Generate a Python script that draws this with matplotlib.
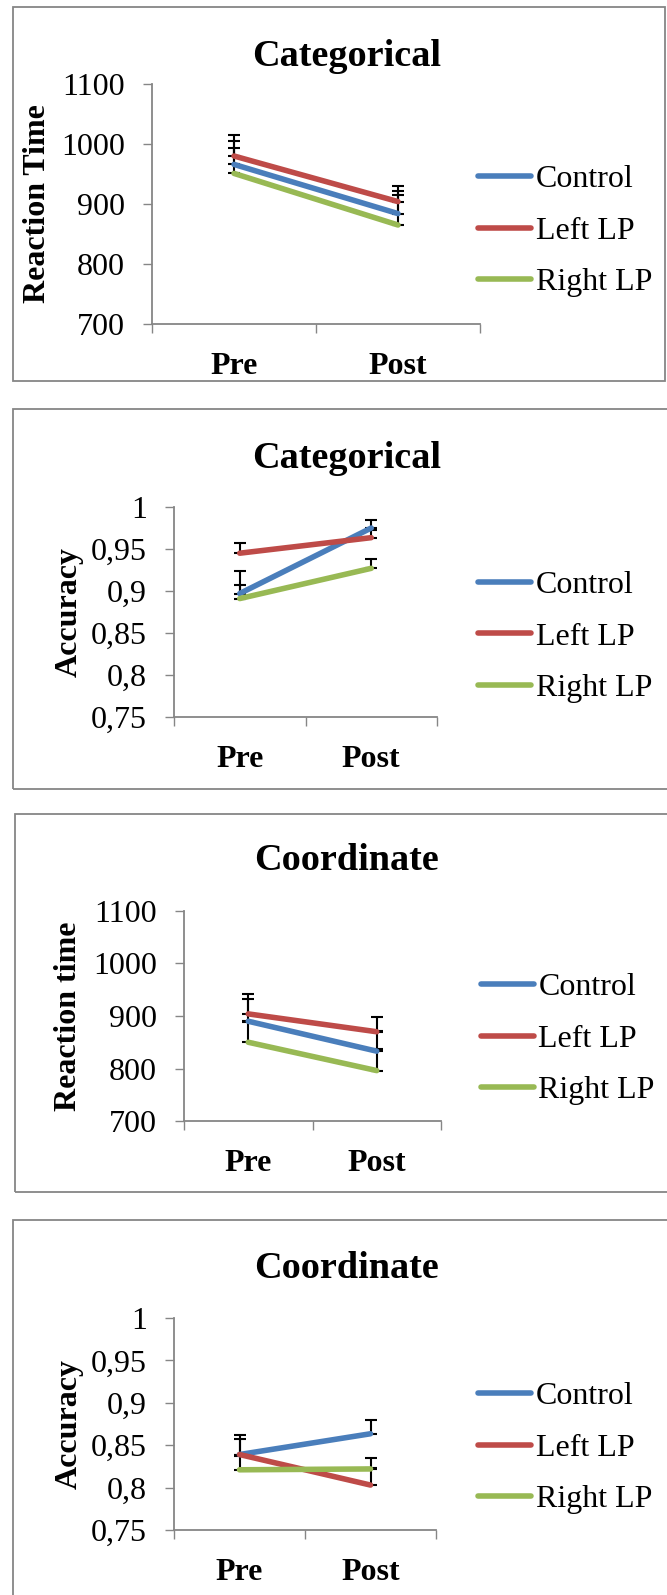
import numpy as np
import matplotlib.pyplot as plt
from matplotlib.patches import Rectangle

# dati
phases = ['Pre', 'Post']
groups = ['Control', 'Left LP', 'Right LP']
colors = ['#4A7EBB', '#BE4B48', '#98B954']

cat_rt = [[966, 884], [980, 904], [951, 865]]
cat_rt_err = [[39, 38], [35, 26], [42, 50]]

cat_acc = [[0.897, 0.975], [0.945, 0.9635], [0.891, 0.927]]
cat_acc_err = [[0.027, 0.0095], [0.0125, 0.009], [0.016, 0.011]]

coo_rt = [[890, 833], [904, 870], [850, 796]]
coo_rt_err = [[42, 38], [37, 29], [38, 42]]

coo_acc = [[0.839, 0.8635], [0.839, 0.803], [0.821, 0.822]]
coo_acc_err = [[0.0225, 0.016], [0.018, 0.032], [0.016, 0.0015]]

rt_ticks = [700, 800, 900, 1000, 1100]
rt_labels = ['700', '800', '900', '1000', '1100']
acc_ticks = [0.75, 0.8, 0.85, 0.9, 0.95, 1.0]
acc_labels = ['0,75', '0,8', '0,85', '0,9', '0,95', '1']

W, H = 667, 1595
plt.rcParams['font.family'] = ['Liberation Serif', 'DejaVu Serif']
fig = plt.figure(figsize=(W / 100, H / 100), dpi=100)
GRAY = '#868686'


def px(x0, y0, x1, y1):
    # pixel box (dall'alto) -> frazioni di figura
    return [x0 / W, 1 - y1 / H, (x1 - x0) / W, (y1 - y0) / H]


panels = [
    dict(title='Categorical', ylabel='Reaction Time', vals=cat_rt, err=cat_rt_err,
         ticks=rt_ticks, labels=rt_labels, box=(13, 7, 665, 381),
         ax=(152, 84, 480, 324), ty=56, ylx=38, leg=(478, 231)),
    dict(title='Categorical', ylabel='Accuracy', vals=cat_acc, err=cat_acc_err,
         ticks=acc_ticks, labels=acc_labels, box=(13, 409, 670, 789),
         ax=(174, 507, 437, 717), ty=458, ylx=69, leg=(478, 637)),
    dict(title='Coordinate', ylabel='Reaction time', vals=coo_rt, err=coo_rt_err,
         ticks=rt_ticks, labels=rt_labels, box=(15, 814, 670, 1192),
         ax=(184, 911, 441, 1121), ty=861, ylx=69, leg=(481, 1039)),
    dict(title='Coordinate', ylabel='Accuracy', vals=coo_acc, err=coo_acc_err,
         ticks=acc_ticks, labels=acc_labels, box=(13, 1220, 670, 1620),
         ax=(174, 1318, 436, 1530), ty=1269, ylx=69, leg=(478, 1448)),
]

x = np.array([0.5, 1.5])

for p in panels:
    bx0, by0, bx1, by1 = p['box']
    fig.patches.append(Rectangle((bx0 / W, 1 - by1 / H), (bx1 - bx0) / W, (by1 - by0) / H,
                                 transform=fig.transFigure, fill=False,
                                 edgecolor=GRAY, linewidth=1.3))
    ax = fig.add_axes(px(*p['ax']))
    for vals, err, c, g in zip(p['vals'], p['err'], colors, groups):
        ax.errorbar(x, vals, yerr=[np.zeros(2), err], fmt='none', ecolor='black',
                    elinewidth=1.5, capsize=4.3, capthick=1.5, zorder=2)
        ax.plot(x, vals, color=c, lw=4, solid_capstyle='round', label=g, zorder=3)

    ax.set_xlim(0, 2)
    ax.set_ylim(p['ticks'][0], p['ticks'][-1])
    ax.set_yticks(p['ticks'])
    ax.set_yticklabels(p['labels'], fontsize=23)
    ax.set_xticks([0, 1, 2])
    ax.set_xticklabels([])
    ax.set_xticks(x, minor=True)
    ax.set_xticklabels(phases, minor=True, fontsize=23, fontweight='bold')
    ax.tick_params(axis='x', which='minor', length=0, pad=20)
    ax.tick_params(axis='both', which='major', direction='out', length=6.5,
                   width=1, color=GRAY, pad=13)
    for s in ['top', 'right']:
        ax.spines[s].set_visible(False)
    for s in ['left', 'bottom']:
        ax.spines[s].set_color(GRAY)
        ax.spines[s].set_linewidth(1.3)

    fig.text(347 / W, 1 - p['ty'] / H, p['title'], ha='center', va='center',
             fontsize=27.5, fontweight='bold')
    ycen = (p['ax'][1] + p['ax'][3]) / 2
    fig.text(p['ylx'] / W, 1 - ycen / H, p['ylabel'], ha='center', va='center',
             rotation=90, fontsize=23, fontweight='bold')

    lx, ly = p['leg']
    ax.legend(loc='center left', bbox_to_anchor=(lx / W, 1 - ly / H),
              bbox_transform=fig.transFigure, frameon=False, fontsize=23,
              handlelength=1.65, handletextpad=0.15, labelspacing=0.69,
              borderpad=0, borderaxespad=0)

fig.savefig('out.png', dpi=100)
